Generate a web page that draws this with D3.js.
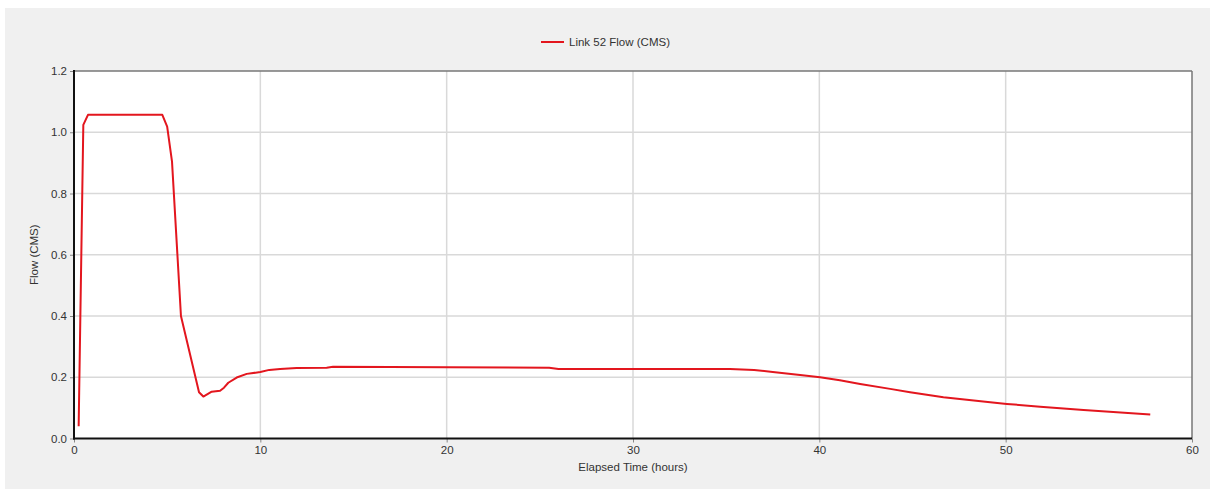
<!DOCTYPE html>
<html>
<head>
<meta charset="utf-8">
<script src="https://cdn.jsdelivr.net/npm/d3@7"></script>
<style>
  html, body { margin: 0; padding: 0; background: #ffffff; }
  svg { display: block; }
  text { font-family: "Liberation Sans", Arial, sans-serif; fill: #333; }
</style>
</head>
<body>
<svg id="chart" width="1210" height="489"></svg>
<script>
// Link 52 flow hydrograph (elapsed hours, flow in CMS)
const hours = [0.25, 0.5, 0.75, 4.74, 5.0, 5.26, 5.74, 6.71, 6.94, 7.39, 7.84, 8.05, 8.28, 8.73, 9.27, 10.0, 10.48, 11.06, 11.95, 13.56, 13.9, 20.0, 25.5, 26.0, 35.2, 36.5, 37.5, 38.97, 40.04, 41.1, 42.19, 43.8, 44.87, 46.66, 49.17, 50.06, 51.85, 54.18, 57.76];
const flow  = [0.04, 1.024, 1.057, 1.057, 1.018, 0.904, 0.40, 0.151, 0.137, 0.153, 0.156, 0.166, 0.182, 0.199, 0.211, 0.217, 0.224, 0.227, 0.230, 0.231, 0.234, 0.233, 0.231, 0.227, 0.227, 0.224, 0.217, 0.207, 0.200, 0.190, 0.178, 0.162, 0.151, 0.135, 0.118, 0.113, 0.104, 0.093, 0.078];
const xTicks = [0, 10, 20, 30, 40, 50, 60];
const yTicks = [0.0, 0.2, 0.4, 0.6, 0.8, 1.0, 1.2];
const seriesName = "Link 52 Flow (CMS)";
const xTitle = "Elapsed Time (hours)";
const yTitle = "Flow (CMS)";

const svg = d3.select("#chart");
const W = 1210, H = 489;
const plot = { left: 74, top: 71, right: 1192, bottom: 438.5 };

// panel background
svg.append("rect").attr("x", 5).attr("y", 8).attr("width", W - 5).attr("height", H - 8).attr("fill", "#f0f0f0");
svg.append("rect").attr("x", plot.left).attr("y", plot.top)
  .attr("width", plot.right - plot.left).attr("height", plot.bottom - plot.top).attr("fill", "#ffffff");

const x = d3.scaleLinear().domain([0, 60]).range([plot.left, plot.right]);
const y = d3.scaleLinear().domain([0, 1.2]).range([plot.bottom, plot.top]);

// gridlines
svg.append("g").selectAll("line").data(xTicks.filter(t => t > 0 && t < 60)).join("line")
  .attr("x1", d => x(d)).attr("x2", d => x(d)).attr("y1", plot.top).attr("y2", plot.bottom)
  .attr("stroke", "#d9d9d9").attr("stroke-width", 1.5);
svg.append("g").selectAll("line").data(yTicks.filter(t => t > 0 && t < 1.2)).join("line")
  .attr("x1", plot.left).attr("x2", plot.right).attr("y1", d => y(d)).attr("y2", d => y(d))
  .attr("stroke", "#d9d9d9").attr("stroke-width", 1.5);

// axes
const xAxis = svg.append("g").attr("transform", `translate(0,${plot.bottom})`)
  .call(d3.axisBottom(x).tickValues(xTicks).tickFormat(d3.format("d")).tickSize(4).tickPadding(3));
const yAxis = svg.append("g").attr("transform", `translate(${plot.left},0)`)
  .call(d3.axisLeft(y).tickValues(yTicks).tickFormat(d3.format(".1f")).tickSize(4).tickPadding(3));
[xAxis, yAxis].forEach(g => {
  g.select(".domain").remove();
  g.selectAll(".tick line").attr("stroke", "#888");
  g.selectAll(".tick text").attr("font-size", "11.5px").attr("fill", "#333")
    .attr("font-family", "Liberation Sans, Arial, sans-serif");
});

// plot frame: light top/right, heavy left/bottom
svg.append("line").attr("x1", plot.left).attr("x2", plot.right).attr("y1", plot.top).attr("y2", plot.top)
  .attr("stroke", "#777").attr("stroke-width", 1.5);
svg.append("line").attr("x1", plot.right).attr("x2", plot.right).attr("y1", plot.top).attr("y2", plot.bottom)
  .attr("stroke", "#777").attr("stroke-width", 1.5);
svg.append("line").attr("x1", plot.left).attr("x2", plot.left).attr("y1", plot.top - 1).attr("y2", plot.bottom + 1)
  .attr("stroke", "#111").attr("stroke-width", 2);
svg.append("line").attr("x1", plot.left - 1).attr("x2", plot.right).attr("y1", plot.bottom).attr("y2", plot.bottom)
  .attr("stroke", "#111").attr("stroke-width", 2);

// series line
const pts = hours.map((h, i) => [h, flow[i]]);
svg.append("path").datum(pts)
  .attr("d", d3.line().x(d => x(d[0])).y(d => y(d[1])))
  .attr("fill", "none").attr("stroke", "#e3161e").attr("stroke-width", 2)
  .attr("stroke-linejoin", "round");

// legend
svg.append("line").attr("x1", 541).attr("x2", 564).attr("y1", 42).attr("y2", 42)
  .attr("stroke", "#e3161e").attr("stroke-width", 2);
svg.append("text").attr("x", 569).attr("y", 46).attr("font-size", "11.5px").text(seriesName);

// axis titles
svg.append("text").attr("x", (plot.left + plot.right) / 2).attr("y", 471)
  .attr("text-anchor", "middle").attr("font-size", "11.5px").text(xTitle);
svg.append("text").attr("transform", `translate(38,${(plot.top + plot.bottom) / 2}) rotate(-90)`)
  .attr("text-anchor", "middle").attr("font-size", "11.5px").text(yTitle);
</script>
</body>
</html>
